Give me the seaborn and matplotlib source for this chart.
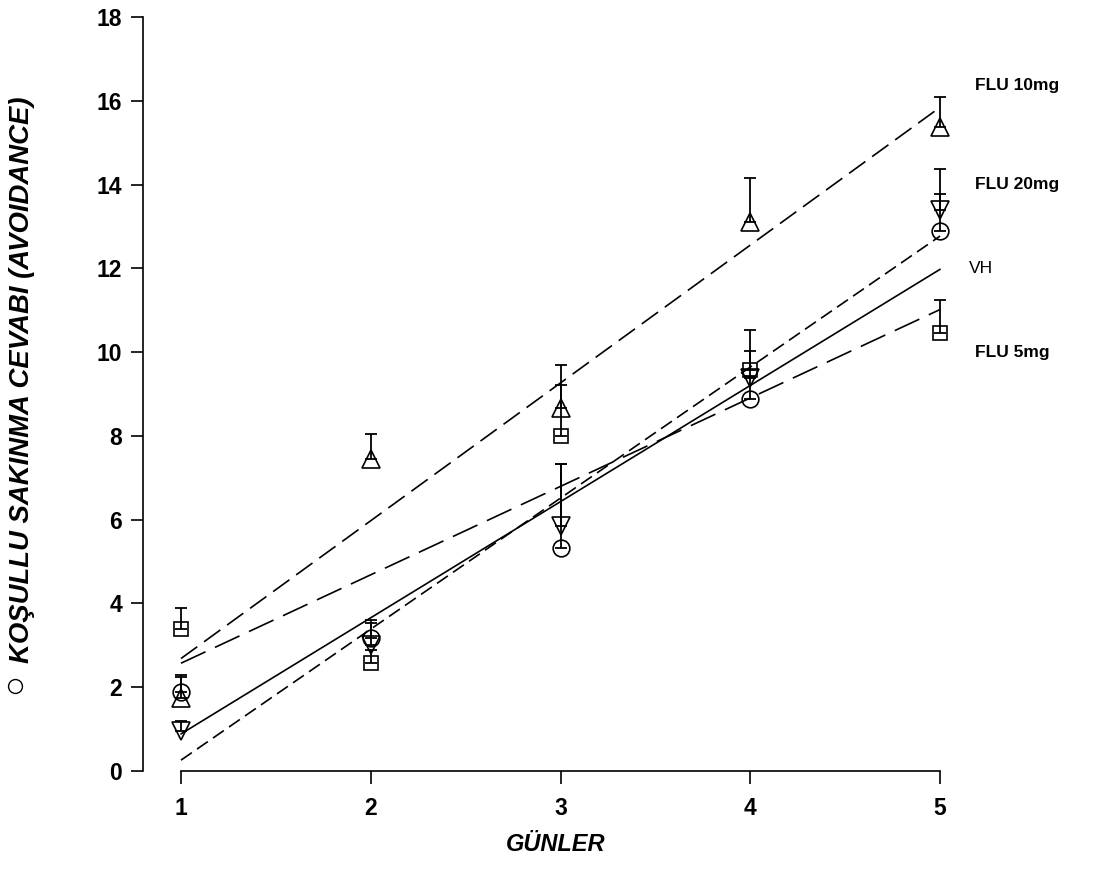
import matplotlib
matplotlib.use("Agg")
import matplotlib.pyplot as plt
import seaborn as sns
import numpy as np

# Günler (x ekseni)
days = [1, 2, 3, 4, 5]

# Grup ortalamaları ve üst hata çubukları (SEM)
vh = [1.89, 3.17, 5.32, 8.88, 12.90]
vh_err = [0.41, 0.36, 2.00, 0.55, 0.87]

flu5 = [3.39, 2.58, 7.99, 9.57, 10.45]
flu5_err = [0.50, 0.30, 1.22, 0.95, 0.79]

flu10 = [1.74, 7.46, 8.66, 13.10, 15.37]
flu10_err = [0.51, 0.59, 1.03, 1.05, 0.71]

flu20 = [0.95, 3.00, 5.85, 9.38, 13.40]
flu20_err = [0.25, 0.60, 1.47, 0.64, 0.98]

group_names = ["VH", "FLU 5mg", "FLU 10mg", "FLU 20mg"]
label_y = [12.0, 10.0, 16.37, 14.0]

y_ticks = [0, 2, 4, 6, 8, 10, 12, 14, 16, 18]


def configurar_estilo():
    sns.set_style("ticks")
    plt.rcParams['font.family'] = ['Liberation Sans', 'DejaVu Sans']
    plt.rcParams['lines.scale_dashes'] = False
    plt.rcParams['text.color'] = 'black'
    plt.rcParams['axes.edgecolor'] = 'black'
    plt.rcParams['axes.labelcolor'] = 'black'
    plt.rcParams['xtick.color'] = 'black'
    plt.rcParams['ytick.color'] = 'black'


def main():
    configurar_estilo()
    fig = plt.figure(figsize=(11.07, 8.74), dpi=100)
    ax = fig.add_axes([0.1292, 0.1178, 0.8835 - 0.1292, 0.9805 - 0.1178])

    grupos = [
        (vh, vh_err, 'o', 12, None),
        (flu5, flu5_err, 's', 10.5, (19.5, 7.5)),
        (flu10, flu10_err, '^', 12.5, (14.5, 6)),
        (flu20, flu20_err, 'v', 12.5, (9.5, 4.5)),
    ]

    for vals, err, mk, ms, dash in grupos:
        line_kws = {'lw': 1.2, 'color': 'black'}
        if dash is not None:
            line_kws['dashes'] = dash
        sns.regplot(x=np.array(days), y=np.array(vals), ax=ax, scatter=False,
                    ci=None, color='black', line_kws=line_kws)
        ax.errorbar(days, vals, yerr=[np.zeros(len(err)), err], fmt='none',
                    ecolor='black', elinewidth=1.3, capsize=4.3, capthick=1.3,
                    zorder=2)
        ax.plot(days, vals, linestyle='none', marker=mk, markersize=ms,
                mfc='none', mec='black', mew=1.2, zorder=3)

    for name, yy in zip(group_names, label_y):
        xx = 5.15 if name == "VH" else 5.185
        ax.text(xx, yy, name, ha='left', va='center', fontsize=12.5,
                fontweight='normal' if name == "VH" else 'bold',
                clip_on=False)

    ax.set_xlim(0.8, 5.2)
    ax.set_ylim(0, 18)
    ax.set_xticks(days)
    ax.set_yticks(y_ticks)
    ax.set_xlabel('')
    ax.set_ylabel('')
    sns.despine(ax=ax)
    ax.spines['left'].set_bounds(0, 18)
    ax.spines['bottom'].set_bounds(1, 5)
    ax.spines['left'].set_linewidth(1.2)
    ax.spines['bottom'].set_linewidth(1.2)
    ax.tick_params(axis='both', direction='out', length=9, width=1.2,
                   labelsize=16.5, color='black')
    ax.tick_params(axis='y', pad=6)
    ax.tick_params(axis='x', pad=10)
    for lab in ax.get_xticklabels() + ax.get_yticklabels():
        lab.set_fontweight('bold')

    fig.text(22 / 1107, 0.565, 'KOŞULLU SAKINMA CEVABI (AVOIDANCE)',
             rotation=90, ha='center', va='center', fontsize=19.8,
             fontweight='bold', fontstyle='italic')
    fig.text(556 / 1107, 0.0332, 'GÜNLER', ha='center', va='center',
             fontsize=17, fontweight='bold', fontstyle='italic')

    # artık lejant sembolü (sol kenar)
    ax.plot([15 / 1107], [1 - 686 / 874], marker='o', markersize=10,
            mfc='none', mec='black', mew=1.0, transform=fig.transFigure,
            clip_on=False)

    fig.savefig('out.png', dpi=100)
    plt.close(fig)


if __name__ == "__main__":
    main()
